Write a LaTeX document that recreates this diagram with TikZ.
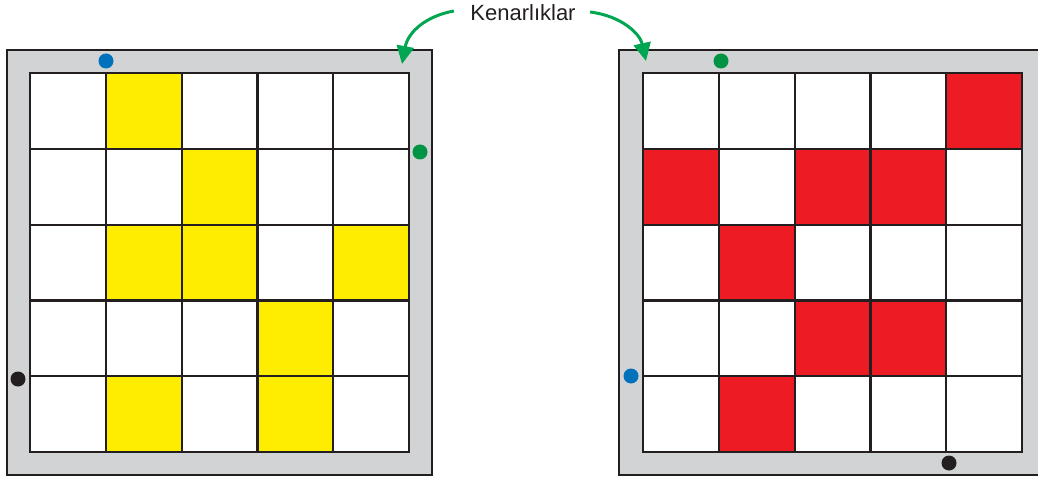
\documentclass[tikz,border=0pt]{standalone}
\usepackage{fontspec}
\setmainfont{Liberation Sans}
\usetikzlibrary{positioning,arrows.meta}
\definecolor{framegray}{RGB}{209,211,212}
\definecolor{linegray}{RGB}{35,31,32}
\definecolor{cellyellow}{RGB}{255,237,0}
\definecolor{cellred}{RGB}{237,28,36}
\definecolor{pegblue}{RGB}{0,114,188}
\definecolor{peggreen}{RGB}{0,148,68}
\definecolor{arrowgreen}{RGB}{0,166,81}
\begin{document}
\begin{tikzpicture}[x=1pt,y=-1pt,
    board/.style={draw=linegray,line width=2pt,fill=framegray},
    cell/.style={draw=linegray,line width=2.2pt,fill=white,minimum size=75.8pt,inner sep=0pt,outer sep=0pt},
    peg/.style={circle,inner sep=0pt,minimum size=15pt},
    bendarrow/.style={draw=arrowgreen,line width=3pt,-{Triangle[length=18pt,width=17pt]}}]
      \useasboundingbox (0,0) rectangle (1038,481);
      \draw [board] (7,50) rectangle (432,475);
      \draw [board] (619,50) rectangle (1046,475);
      \foreach \r in {1,...,5}
        \foreach \c in {1,...,5} {
          \node [cell] (L\r\c) at ({30+75.8*(\c-0.5)},{73+75.8*(\r-0.5)}) {};
          \node [cell] (R\r\c) at ({643+75.8*(\c-0.5)},{73+75.8*(\r-0.5)}) {};
        }
      \foreach \rc in {12,23,32,33,35,44,52,54}
        \node [cell,fill=cellyellow] at (L\rc) {};
      \foreach \rc in {15,21,23,24,32,43,44,52}
        \node [cell,fill=cellred] at (R\rc) {};
      \node [peg,fill=pegblue] (lblue) at (106,61) {};
      \node [peg,fill=peggreen] (lgreen) at (420,152) {};
      \node [peg,fill=linegray] (lblack) at (18,379) {};
      \node [peg,fill=peggreen] (rgreen) at (721,61) {};
      \node [peg,fill=pegblue] (rblue) at (631,376) {};
      \node [peg,fill=linegray] (rblack) at (949,463) {};
      \node [text=linegray,font=\fontsize{22}{26}\selectfont] (kl) at (523,13) {Kenarlıklar};
      \coordinate (lcorner) at (402,64);
      \coordinate (rcorner) at (646,61);
      \path [bendarrow] (kl.west) ++(-13,-2) .. controls (426,16) and (408,32) .. (lcorner);
      \path [bendarrow] (kl.east) ++(11,-1) .. controls (622,16) and (640,34) .. (rcorner);
\end{tikzpicture}
\end{document}
